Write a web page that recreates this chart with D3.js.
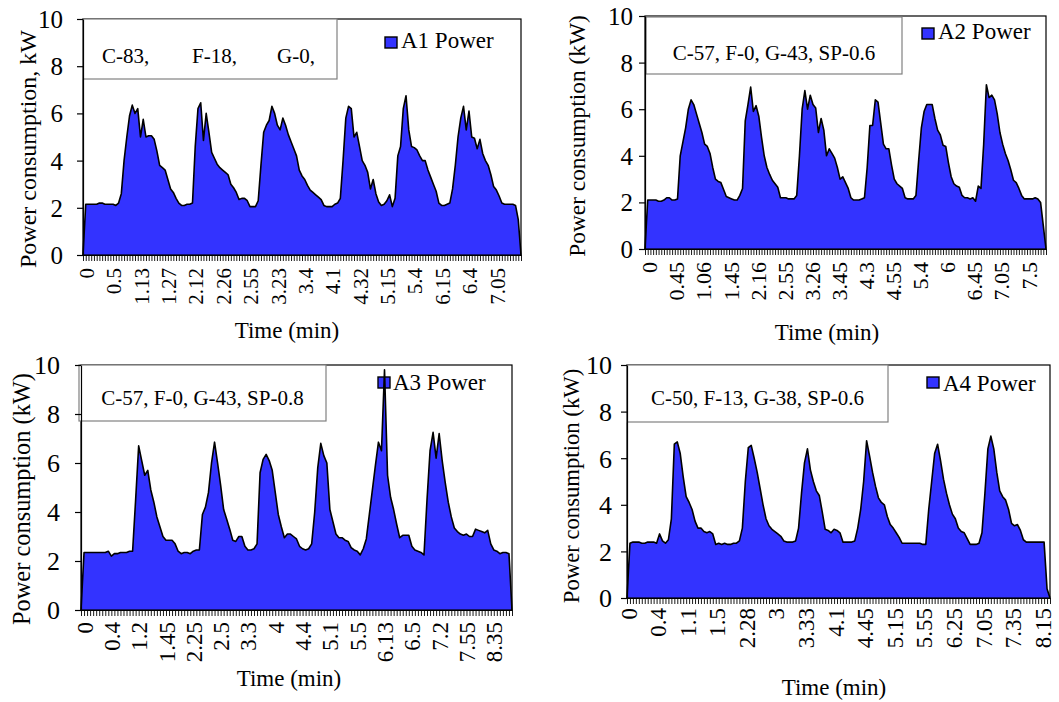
<!DOCTYPE html>
<html><head><meta charset="utf-8">
<script src="https://cdn.jsdelivr.net/npm/d3@7"></script>
<style>
body{margin:0;background:#fff}
text{font-family:"Liberation Serif","Times New Roman",serif;fill:#000}
</style>
</head><body>
<svg id="chart" width="1059" height="702"></svg>
<script>
// ---------------- data ----------------
const a1Power = [0,2.15,2.15,2.15,2.15,2.15,2.2,2.2,2.15,2.15,
2.15,2.15,2.1,2.2,2.6,4.0,5.0,5.9,6.35,6.0,
6.2,5.0,5.75,5.0,5.05,5.05,4.9,4.4,3.8,3.7,
3.6,3.2,2.8,2.65,2.4,2.2,2.1,2.1,2.15,2.15,
2.2,4.6,6.2,6.45,4.85,6.0,5.2,4.35,4.1,3.85,
3.7,3.6,3.5,3.4,3.0,2.85,2.65,2.35,2.4,2.4,
2.3,2.05,2.05,2.05,2.3,3.8,5.2,5.5,5.7,6.3,
6.0,5.5,5.3,5.8,5.5,5.1,4.8,4.5,4.2,3.6,
3.35,3.2,2.95,2.75,2.65,2.55,2.45,2.35,2.1,2.05,
2.05,2.05,2.15,2.2,2.4,4.0,5.8,6.3,6.2,5.0,
5.2,4.6,4.0,3.8,3.5,2.8,3.2,2.6,2.25,2.1,
2.15,2.3,2.55,2.05,2.4,4.2,4.6,6.2,6.75,5.3,
4.6,4.55,4.45,4.2,4.0,4.0,3.6,3.3,3.0,2.7,
2.2,2.1,2.1,2.15,2.2,2.8,3.8,5.0,5.8,6.3,
5.3,6.1,5.0,4.95,4.5,4.9,4.3,4.0,3.8,3.4,
2.9,2.75,2.5,2.2,2.15,2.15,2.15,2.15,2.1,1.5,0];
const a1Labels = ["0","0.5","1.13","1.27","2.12","2.26","2.55","3.23","3.4","4.1","4.32","5.15","5.4","6.15","6.4","7.05"];

const a2Power = [0,2.1,2.1,2.1,2.1,2.05,2.05,2.1,2.2,2.2,
2.1,2.1,2.15,4.0,4.6,5.2,6.0,6.4,6.2,5.8,
5.4,5.0,4.5,4.4,4.1,3.5,3.0,2.9,2.85,2.55,
2.25,2.2,2.15,2.1,2.1,2.3,2.6,5.5,6.2,6.95,
5.9,6.15,5.7,4.8,4.0,3.5,3.2,2.95,2.8,2.65,
2.2,2.2,2.2,2.15,2.15,2.15,2.3,4.0,6.0,6.8,
6.0,6.6,6.2,6.05,5.0,5.6,5.1,4.0,4.3,4.1,
3.9,3.5,3.0,3.1,2.85,2.6,2.2,2.1,2.1,2.1,
2.15,2.2,3.5,5.3,5.3,6.4,6.3,5.4,4.5,4.3,
4.3,3.6,3.0,2.8,2.7,2.6,2.2,2.15,2.15,2.15,
2.3,3.8,5.2,5.9,6.2,6.2,6.2,5.6,5.1,4.9,
4.45,4.4,3.7,3.1,2.8,2.7,2.65,2.3,2.2,2.2,
2.15,2.2,2.05,2.7,2.6,4.5,7.05,6.5,6.6,6.4,
5.8,5.0,4.5,4.1,3.8,3.4,2.95,2.85,2.6,2.3,
2.15,2.15,2.15,2.15,2.2,2.15,2.0,1.0,0];
const a2Labels = ["0","0.45","1.06","1.45","2.16","2.55","3.26","3.45","4.3","4.55","5.4","6","6.45","7.05","7.5"];

const a3Power = [0,2.35,2.35,2.35,2.35,2.35,2.35,2.35,2.35,2.4,
2.2,2.3,2.3,2.35,2.35,2.35,2.4,2.4,4.5,6.7,
6.1,5.5,5.7,4.9,4.4,3.8,3.4,3.0,2.85,2.85,
2.85,2.7,2.4,2.3,2.35,2.35,2.3,2.4,2.45,2.45,
3.9,4.2,4.8,6.0,6.85,6.0,5.1,4.1,3.7,3.3,
2.85,2.8,3.0,3.0,2.6,2.45,2.45,2.5,2.7,5.6,
6.15,6.35,6.1,5.7,4.8,3.9,3.4,2.95,3.1,3.1,
3.0,2.9,2.6,2.5,2.45,2.5,2.7,4.0,5.8,6.8,
6.3,6.0,4.1,3.6,3.1,2.95,2.95,2.85,2.8,2.55,
2.45,2.4,2.25,2.5,2.9,3.9,4.9,5.9,6.85,6.5,
9.8,5.5,4.6,4.1,3.5,2.95,3.05,3.05,3.05,2.6,
2.45,2.4,2.35,2.25,4.5,6.5,7.25,6.2,7.2,6.1,
5.2,4.4,3.8,3.35,3.2,3.1,3.05,3.1,3.0,3.0,
3.3,3.25,3.2,3.15,3.25,2.7,2.45,2.4,2.3,2.35,
2.35,2.3,0];
const a3Labels = ["0","0.4","1.2","1.45","2.25","2.5","3.3","4","4.4","5.1","5.5","6.13","6.5","7.2","7.55","8.35"];

const a4Power = [0,2.35,2.4,2.4,2.4,2.35,2.35,2.4,2.4,2.4,
2.35,2.75,2.45,2.35,2.5,3.4,6.6,6.7,6.2,5.2,
4.35,4.1,3.8,3.3,3.0,3.0,2.85,2.8,2.85,2.75,
2.3,2.35,2.3,2.35,2.3,2.3,2.35,2.35,2.45,3.0,
5.0,6.45,6.55,6.0,5.4,4.7,4.0,3.4,3.1,2.95,
2.85,2.75,2.65,2.45,2.4,2.4,2.4,2.45,3.0,4.5,
5.8,6.4,5.5,5.0,4.6,4.4,3.7,2.95,2.9,2.8,
2.95,2.9,2.8,2.4,2.4,2.4,2.4,2.45,3.0,3.8,
5.0,6.75,6.1,5.4,4.8,4.3,4.1,4.0,3.5,3.15,
3.0,2.8,2.6,2.35,2.35,2.35,2.35,2.35,2.35,2.35,
2.3,2.3,3.8,5.0,6.2,6.6,5.9,5.1,4.5,4.0,
3.6,3.4,3.0,2.85,2.8,2.55,2.3,2.3,2.3,2.35,
2.8,4.5,6.4,6.95,6.4,5.4,4.6,4.35,4.2,3.8,
3.2,3.1,3.15,2.9,2.5,2.4,2.4,2.4,2.4,2.4,
2.4,2.4,0.4,0];
const a4Labels = ["0","0.4","1.1","1.5","2.28","3","3.33","4.1","4.45","5.15","5.55","6.25","7.05","7.35","8.15"];

const seriesNames = ["A1 Power","A2 Power","A3 Power","A4 Power"];
const notes = [["C-83,","F-18,","G-0,"],["C-57, F-0, G-43, SP-0.6"],["C-57, F-0, G-43, SP-0.8"],["C-50, F-13, G-38, SP-0.6"]];
const yTitles = ["Power consumption, kW","Power consumption (kW)","Power consumption (kW)","Power consumption (kW)"];
const yTicks = [0,2,4,6,8,10];
const xTitle = "Time (min)";

// ---------------- layout ----------------
const FILL = "#3333ff";
const panels = [
 {values:a1Power, labels:a1Labels, step:10, l:83, r:521, t:19, b:255,
  yLabR:63, yTickFs:25, xTickFs:21, xLabTop:268, labDx:4,
  yTitleX:28, yTitleY:149, yTitleFs:24, xTitleX:287, xTitleY:338,
  box:[83,19,337,79], noteY:63, noteXs:[102,192,277], noteFs:21,
  leg:[385,37], legTextX:401, legY:48},
 {values:a2Power, labels:a2Labels, step:10, l:645, r:1046, t:16, b:249,
  yLabR:633, yTickFs:25, xTickFs:22, xLabTop:262, labDx:5,
  yTitleX:577, yTitleY:136, yTitleFs:23.4, xTitleX:827, xTitleY:340,
  box:[646,17,902,74], noteY:60, noteFs:21,
  leg:[922,28], legTextX:938, legY:39},
 {values:a3Power, labels:a3Labels, step:9, l:81, r:512, t:365, b:610,
  yLabR:60, yTickFs:26, xTickFs:23, xLabTop:622, labDx:4,
  yTitleX:22, yTitleY:499, yTitleFs:24.4, xTitleX:289, xTitleY:686,
  box:[79,365,326,421], noteY:405, noteFs:21,
  leg:[378,377], legTextX:393, legY:390},
 {values:a4Power, labels:a4Labels, step:10, l:627, r:1050, t:365, b:598,
  yLabR:612, yTickFs:26, xTickFs:23, xLabTop:608, labDx:2,
  yTitleX:571, yTitleY:486, yTitleFs:22.7, xTitleX:834, xTitleY:695,
  box:[627,365,888,422], noteY:405, noteFs:21,
  leg:[927,377], legTextX:943, legY:391}
];

const svg = d3.select("#chart");

panels.forEach((p, k) => {
  const g = svg.append("g");
  const x = d3.scalePoint().domain(d3.range(p.values.length)).range([p.l, p.r]).padding(0);
  const y = d3.scaleLinear().domain([0, 10]).range([p.b, p.t]);

  // legend (drawn beneath the series so the spike in A3 shows over it)
  g.append("rect").attr("x", p.leg[0]).attr("y", p.leg[1]).attr("width", 12).attr("height", 11)
    .attr("fill", FILL).attr("stroke", "#000").attr("stroke-width", 1.4);
  g.append("text").attr("x", p.legTextX).attr("y", p.legY).attr("font-size", 23).text(seriesNames[k]);

  // area + outline
  const area = d3.area().x((d, i) => x(i)).y0(y(0)).y1(d => y(d));
  const line = d3.line().x((d, i) => x(i)).y(d => y(d));
  g.append("path").datum(p.values).attr("d", area).attr("fill", FILL);
  g.append("path").datum(p.values).attr("d", line).attr("fill", "none")
    .attr("stroke", "#000").attr("stroke-width", 1.6).attr("stroke-linejoin", "round");

  // plot frame
  g.append("rect").attr("x", p.l).attr("y", p.t).attr("width", p.r - p.l).attr("height", p.b - p.t)
    .attr("fill", "none").attr("stroke", "#000").attr("stroke-width", 1.2);

  // note box
  const bx = p.box;
  g.append("rect").attr("x", bx[0]).attr("y", bx[1]).attr("width", bx[2] - bx[0]).attr("height", bx[3] - bx[1])
    .attr("fill", "#fff").attr("stroke", "#808080").attr("stroke-width", 1.2);
  if (p.noteXs) {
    notes[k].forEach((s, j) => g.append("text").attr("x", p.noteXs[j]).attr("y", p.noteY)
      .attr("font-size", p.noteFs).text(s));
  } else {
    g.append("text").attr("x", (bx[0] + bx[2]) / 2).attr("y", p.noteY).attr("text-anchor", "middle")
      .attr("font-size", p.noteFs).text(notes[k][0]);
  }

  // y axis
  const ya = g.append("g").attr("transform", `translate(${p.l},0)`)
    .call(d3.axisLeft(y).tickValues(yTicks).tickSize(6).tickSizeOuter(0).tickFormat(d3.format("d")));
  ya.select(".domain").attr("stroke", "#000").attr("stroke-width", 1.2);
  ya.selectAll(".tick line").attr("stroke", "#000").attr("stroke-width", 1.2);
  ya.selectAll(".tick text").attr("x", p.yLabR - p.l).attr("font-size", p.yTickFs)
    .attr("font-family", "'Liberation Serif',serif").attr("fill", "#000").attr("dy", "0.34em");

  // x axis: a tick at every category
  const xa = g.append("g").attr("transform", `translate(0,${p.b})`)
    .call(d3.axisBottom(x).tickSize(6).tickSizeOuter(0).tickFormat(""));
  xa.select(".domain").attr("stroke", "#000").attr("stroke-width", 1.2);
  xa.selectAll(".tick line").attr("stroke", "#000").attr("stroke-width", 0.9);

  // x tick labels every step categories
  g.selectAll(".xl").data(p.labels).enter().append("text")
    .attr("transform", (d, j) => `translate(${x(j * p.step) + p.labDx},${p.xLabTop}) rotate(-90)`)
    .attr("text-anchor", "end").attr("dy", "0.33em").attr("font-size", p.xTickFs).text(d => d);

  // axis titles
  g.append("text").attr("transform", `translate(${p.yTitleX},${p.yTitleY}) rotate(-90)`)
    .attr("text-anchor", "middle").attr("dy", "0.33em").attr("font-size", p.yTitleFs).text(yTitles[k]);
  g.append("text").attr("x", p.xTitleX).attr("y", p.xTitleY).attr("text-anchor", "middle")
    .attr("font-size", 23).text(xTitle);
});
</script>
</body></html>
